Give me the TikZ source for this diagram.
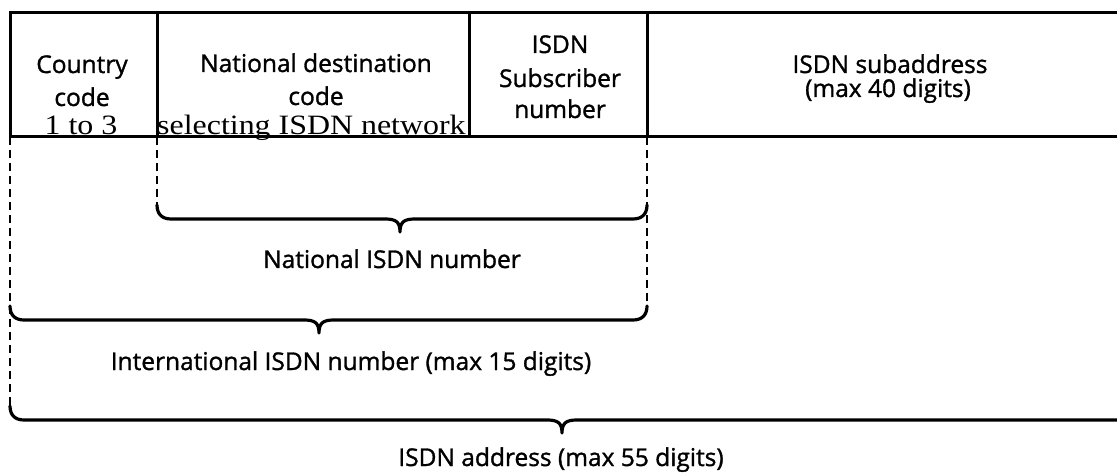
\documentclass[tikz,border=0pt]{standalone}
\usepackage{fontspec}
\usepackage{graphicx}
\newfontfamily\labfont[FakeBold=1.3]{Open Sans}
\newfontfamily\serfont{Liberation Serif}
\newcommand\mybrace[5]{% #1 x left, #2 x right, #3 x tip, #4 y top of ends, #5 y of line
  \draw[bracestyle] (#1,#4) .. controls (#1,#5+5) and (#1+5,#5) .. (#1+14,#5)
    -- (#3-15,#5) .. controls (#3-4,#5) and (#3,#5-3) .. (#3,#5-13)
    .. controls (#3,#5-3) and (#3+4,#5) .. (#3+15,#5)
    -- (#2-14,#5) .. controls (#2-5,#5) and (#2,#5+5) .. (#2,#4);}
\begin{document}
\begin{tikzpicture}[x=1pt,y=1pt,
  lab/.style={font=\labfont\fontsize{24.5}{24.5}\selectfont, inner sep=0pt, anchor=base},
  ser/.style={font=\serfont\fontsize{28}{28}\selectfont, inner sep=0pt, anchor=base},
  boxline/.style={line width=3pt},
  guide/.style={line width=2.2pt, dash pattern=on 8pt off 5pt},
  bracestyle/.style={line width=3.2pt, line cap=round, line join=round}]
\useasboundingbox (0,0) rectangle (1117,-473);
\clip (0,0) rectangle (1117,-473);
% frame of the address fields
\coordinate (TL) at (10,-13);
\coordinate (TR) at (1120,-13);
\coordinate (BL) at (10,-137);
\coordinate (BR) at (1120,-137);
\coordinate (a1) at (157,-13);
\coordinate (a2) at (157,-137);
\coordinate (b1) at (469,-13);
\coordinate (b2) at (469,-137);
\coordinate (c1) at (647,-13);
\coordinate (c2) at (647,-137);
\draw[boxline] (TR) -- (TL) -- (BL) -- (BR);
\draw[boxline] (a1) -- (a2);
\draw[boxline] (b1) -- (b2);
\draw[boxline] (c1) -- (c2);
% dashed guides
\coordinate (g0) at (10,-406);
\coordinate (g1) at (157,-205);
\coordinate (g3) at (647,-306);
\draw[guide] (BL) -- (g0);
\draw[guide] (a2) -- (g1);
\draw[guide] (c2) -- (g3);
% braces
\mybrace{157}{647}{400}{-205}{-219}
\mybrace{10}{647}{319}{-306}{-320}
\mybrace{10}{1160}{562}{-406}{-420}
% cell texts
\node[lab] (cc1) at (82,-73) {Country};
\node[lab] (cc2) at (82,-106) {code};
\node[ser] (cc3) at (81,-135) {\scalebox{1.14}[1]{1 to 3}};
\node[lab] (nd1) at (316,-72) {National destination};
\node[lab] (nd2) at (316,-105) {code};
\node[ser, anchor=base west] (nd3) at (157,-135) {\scalebox{1.14}[1]{selecting ISDN network}};
\node[lab] (sn1) at (560,-53) {ISDN};
\node[lab] (sn2) at (560,-87) {Subscriber};
\node[lab] (sn3) at (560,-118) {number};
\node[lab] (sa1) at (890,-73) {ISDN subaddress};
\node[lab] (sa2) at (888,-97) {(max 40 digits)};
% brace labels
\node[lab] (nat) at (392,-268) {National ISDN number};
\node[lab] (intl) at (351,-370) {International ISDN number (max 15 digits)};
\node[lab] (addr) at (561,-466) {ISDN address (max 55 digits)};
\end{tikzpicture}
\end{document}
